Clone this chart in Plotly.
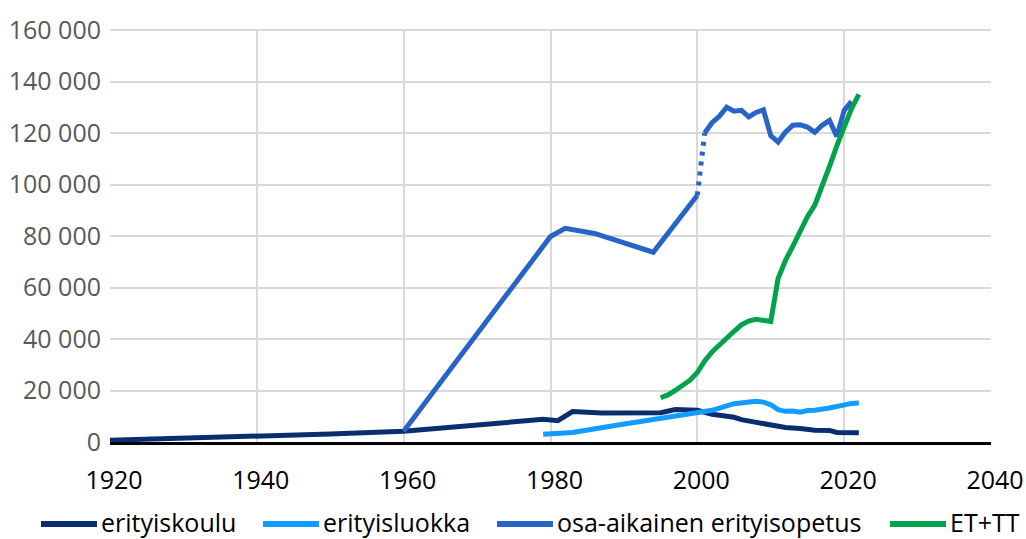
import plotly.graph_objects as go

# erityiskoulu
koulu_years = [1920, 1930, 1940, 1950, 1960, 1970, 1979, 1981, 1983, 1987, 1995, 1997, 2000,
               2002, 2005, 2006, 2009, 2012, 2014, 2016, 2018, 2019, 2022]
koulu_vals = [700, 1400, 2200, 3100, 4200, 6700, 8800, 8300, 11800, 11300, 11400, 12600, 12300,
              10800, 9600, 8700, 7200, 5600, 5200, 4600, 4500, 3700, 3600]

# erityisluokka
luokka_years = [1979, 1983, 1989, 1996, 2002, 2005, 2007, 2008, 2009, 2010, 2011, 2012, 2013,
                2014, 2015, 2016, 2018, 2020, 2021, 2022]
luokka_vals = [3000, 3700, 6500, 9700, 12300, 14900, 15600, 15800, 15500, 14500, 12600, 11900,
               12000, 11600, 12200, 12300, 13200, 14600, 15000, 15100]

# osa-aikainen erityisopetus (early series, break, later series)
osa1_years = [1960, 1980, 1982, 1986, 1994, 2000]
osa1_vals = [4200, 79800, 83000, 81000, 73700, 95800]
osa_gap_years = [2000, 2001]
osa_gap_vals = [95800, 120000]
osa2_years = [2001, 2002, 2003, 2004, 2005, 2006, 2007, 2008, 2009, 2010, 2011, 2012, 2013,
              2014, 2015, 2016, 2017, 2018, 2019, 2020, 2021]
osa2_vals = [120000, 124000, 126500, 130000, 128500, 128800, 126300, 128000, 129000, 119000,
             116500, 120300, 123000, 123200, 122300, 120300, 123000, 124900, 118700, 128800, 132300]

# ET+TT
ettt_years = [1995, 1996, 1997, 1998, 1999, 2000, 2001, 2002, 2003, 2004, 2005, 2006, 2007,
              2008, 2009, 2010, 2011, 2012, 2013, 2014, 2015, 2016, 2017, 2018, 2019, 2020,
              2021, 2022]
ettt_vals = [17200, 18300, 20000, 21800, 24000, 27000, 31500, 35000, 37800, 40500, 43000, 45500,
             47000, 47700, 47300, 46800, 63500, 70500, 76000, 82000, 87500, 92000, 99000,
             107000, 115000, 122500, 129500, 135000]

x_ticks = [1920, 1940, 1960, 1980, 2000, 2020, 2040]
y_ticks = [0, 20000, 40000, 60000, 80000, 100000, 120000, 140000, 160000]

legend_names = ["erityiskoulu", "erityisluokka", "osa-aikainen erityisopetus", "ET+TT"]

C_KOULU = "#0a2d6e"
C_LUOKKA = "#139cff"
C_OSA = "#2864c6"
C_ETTT = "#00a24c"
legend_colors = [C_KOULU, C_LUOKKA, C_OSA, C_ETTT]
LW = 5

fig = go.Figure()
fig.add_trace(go.Scatter(x=koulu_years, y=koulu_vals, mode="lines", name=legend_names[0],
                         line=dict(color=C_KOULU, width=LW)))
fig.add_trace(go.Scatter(x=luokka_years, y=luokka_vals, mode="lines", name=legend_names[1],
                         line=dict(color=C_LUOKKA, width=LW)))
fig.add_trace(go.Scatter(x=osa1_years, y=osa1_vals, mode="lines", name=legend_names[2],
                         line=dict(color=C_OSA, width=LW)))
fig.add_trace(go.Scatter(x=osa_gap_years, y=osa_gap_vals, mode="lines", name=legend_names[2],
                         line=dict(color=C_OSA, width=LW, dash="4px,6px")))
fig.add_trace(go.Scatter(x=osa2_years, y=osa2_vals, mode="lines", name=legend_names[2],
                         line=dict(color=C_OSA, width=LW)))
fig.add_trace(go.Scatter(x=ettt_years, y=ettt_vals, mode="lines", name=legend_names[3],
                         line=dict(color=C_ETTT, width=LW)))

FONT = "Open Sans, Noto Sans, sans-serif"

# plot area in pixels
L, R, T, B = 110, 35, 29, 97
W, H = 1026, 539
PW, PH = W - L - R, H - T - B


def px_to_paper_x(px):
    return (px - L) / PW


def px_to_paper_y(py):
    return (H - B - py) / PH


# manual legend (long line samples as in the reference)
legend_line_px = [(41, 97), (263, 319), (497, 553), (890, 946)]
legend_y_px = 524
for (x0, x1), name, col in zip(legend_line_px, legend_names, legend_colors):
    fig.add_shape(type="line", xref="paper", yref="paper",
                  x0=px_to_paper_x(x0), x1=px_to_paper_x(x1),
                  y0=px_to_paper_y(legend_y_px), y1=px_to_paper_y(legend_y_px),
                  line=dict(color=col, width=6))
    fig.add_annotation(xref="paper", yref="paper", x=px_to_paper_x(x1 + 2),
                       y=px_to_paper_y(legend_y_px - 2), text=name, showarrow=False,
                       xanchor="left", yanchor="middle",
                       font=dict(family=FONT, size=25, color="black"))

fig.update_layout(
    width=W, height=H,
    margin=dict(l=L, r=R, t=T, b=B),
    paper_bgcolor="white", plot_bgcolor="white",
    separators=", ",
    font=dict(family=FONT, size=25, color="black"),
    showlegend=False,
    xaxis=dict(range=[1920, 2040], tickvals=x_ticks, showgrid=True, gridcolor="#d9d9d9",
               gridwidth=2, showline=True, linecolor="black", linewidth=3, zeroline=False,
               ticks="", tickfont=dict(family=FONT, size=25, color="black"),
               ticklabelstandoff=14, ticklabelshift=4, automargin=False),
    yaxis=dict(range=[0, 160400], tickvals=y_ticks, tickformat=",d", showgrid=True,
               gridcolor="#d9d9d9", gridwidth=2, zeroline=False, showline=False, ticks="",
               tickfont=dict(family=FONT, size=25, color="#595959"), ticklabelstandoff=8,
               automargin=False),
)

fig.write_html("out.html", config={"displayModeBar": False},
               post_script="document.body.style.margin='0';document.body.style.overflow='hidden';")
